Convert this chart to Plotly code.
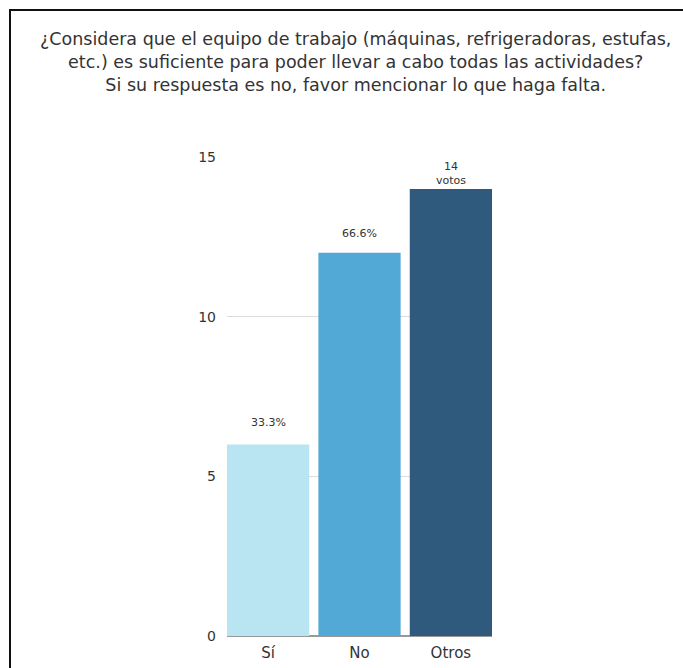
import plotly.graph_objects as go

categories = ["Sí", "No", "Otros"]
values = [6, 12, 14]
labels = ["33.3%", "66.6%", "14<br>votos"]
colors = ["#b9e5f3", "#52a9d5", "#2f5a7e"]
label_shift = [22, 19, 15]
y_ticks = [0, 5, 10, 15]

title_text = ("¿Considera que el equipo de trabajo (máquinas, refrigeradoras, estufas,<br>"
              "etc.) es suficiente para poder llevar a cabo todas las actividades?<br>"
              "Si su respuesta es no, favor mencionar lo que haga falta.")

FONT = "DejaVu Sans"
W, H = 683, 668
# target plot area in window coordinates
X0, X1, Y0, Y1 = 227, 492, 157, 636
L, T = X0, Y0
pw, ph = X1 - X0, Y1 - Y0
R, B = W - L - pw, H - T - ph

fig = go.Figure()
fig.add_trace(go.Bar(
    x=categories, y=values,
    marker=dict(color=colors, line=dict(width=0)),
    hoverinfo="skip",
))

for c, v, t, s in zip(categories, values, labels, label_shift):
    fig.add_annotation(x=c, y=v, text=t, showarrow=False, yshift=s,
                       font=dict(size=11, color="#333333", family=FONT))

def px(x):
    return (x - X0) / pw

def py(y):
    return (Y1 - y) / ph

# frame: top and left edges visible in the window
fig.add_shape(type="line", xref="paper", yref="paper",
              x0=px(9), x1=px(720), y0=py(10), y1=py(10),
              line=dict(color="#111111", width=2), layer="below")
fig.add_shape(type="line", xref="paper", yref="paper",
              x0=px(10), x1=px(10), y0=py(9), y1=py(720),
              line=dict(color="#111111", width=2), layer="below")

fig.add_annotation(xref="paper", yref="paper", x=px(355), y=py(62), text=title_text,
                   showarrow=False, xanchor="center", yanchor="middle", align="center",
                   font=dict(size=17.5, color="#333333", family=FONT))

fig.update_layout(
    width=W, height=H,
    margin=dict(l=L, r=R, t=T, b=B, pad=0, autoexpand=False),
    paper_bgcolor="white", plot_bgcolor="white",
    bargap=0.1,
    showlegend=False,
    font=dict(family=FONT, color="#444444"),
    xaxis=dict(range=[-0.45, 2.45], showgrid=False, tickfont=dict(size=15, color="#333333"),
               ticks="", showline=False, fixedrange=True, ticklabelstandoff=6, automargin=False),
    yaxis=dict(range=[0, 15], tickvals=y_ticks, showgrid=True, gridcolor="#dddddd", gridwidth=1,
               zeroline=True, zerolinecolor="#999999", zerolinewidth=2, automargin=False,
               tickfont=dict(size=14, color="#333333"), ticklabelstandoff=10, fixedrange=True),
)

fig.write_html(
    "out.html",
    config={"displayModeBar": False},
    post_script="document.body.style.margin='0px'; document.body.style.overflow='hidden';",
)
